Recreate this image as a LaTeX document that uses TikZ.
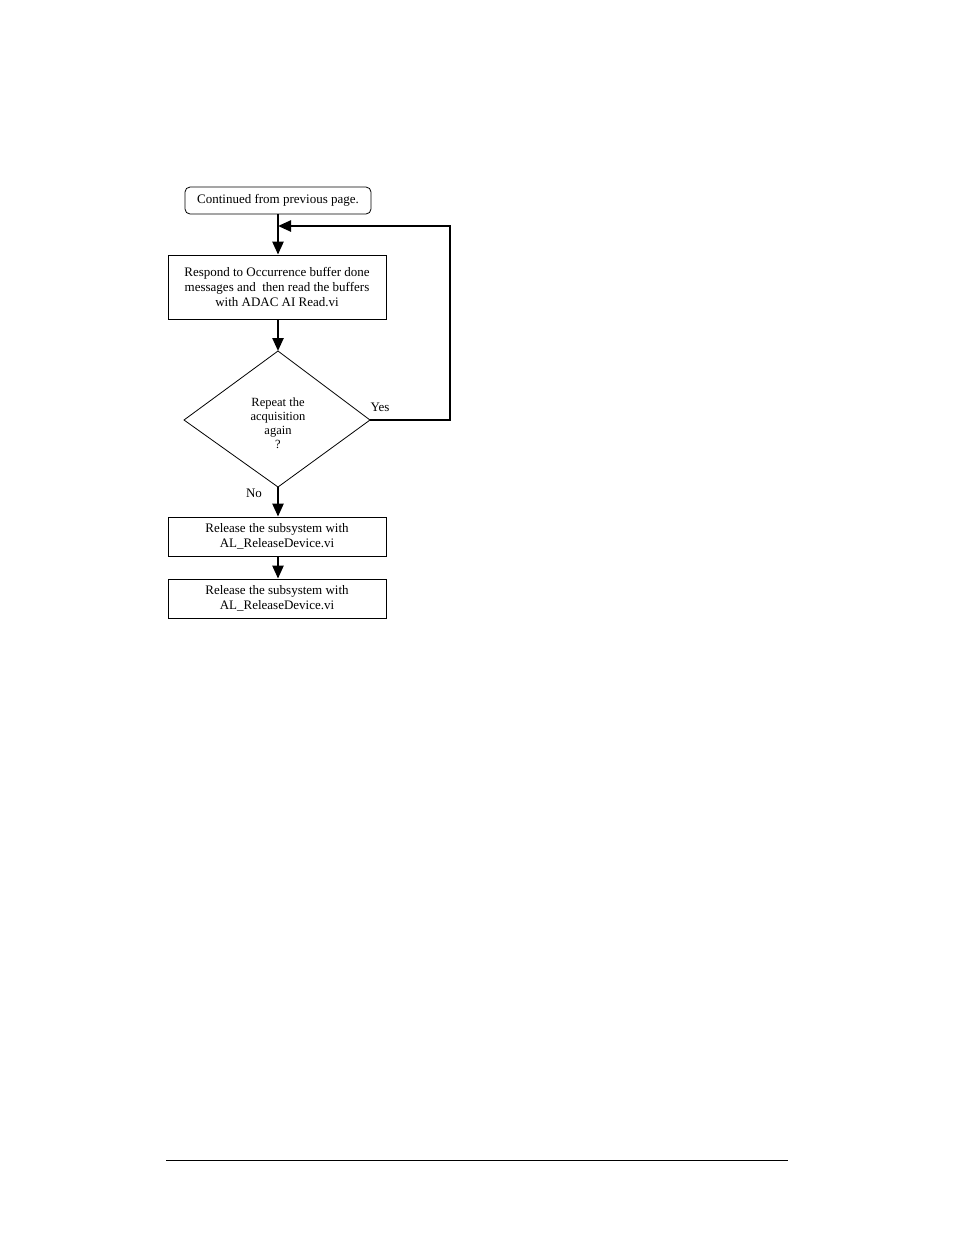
\documentclass[tikz,border=0pt]{standalone}
\usepackage{fontspec}
\setmainfont{Liberation Serif}
\usetikzlibrary{shapes.geometric,arrows.meta}
\begin{document}
\begin{tikzpicture}[x=1pt,y=-1pt,
  every node/.style={font=\fontsize{13}{15}\selectfont},
  box/.style={draw,line width=0.8pt,minimum width=218pt,align=center,inner sep=0pt},
  flow/.style={line width=2.4pt,-{Triangle[length=13pt,width=11pt]}},
  lbl/.style={inner sep=0pt}]
\useasboundingbox (0,0) rectangle (954,1235);
\node[box,rounded corners=5pt,minimum width=186pt,minimum height=27pt] (start) at (278,200.5) {Continued from previous page.};
\node[box,minimum height=64pt] (resp) at (277,287) {Respond to Occurrence buffer done\\messages and\ \ then read the buffers\\with ADAC AI Read.vi};
\coordinate (dt) at (278,351);
\coordinate (db) at (278,487);
\coordinate (dl) at (184,420);
\coordinate (dr) at (370,420);
\draw[line width=0.8pt] (dt) -- (dr) -- (db) -- (dl) -- cycle;
\node[align=center,font=\fontsize{12.5}{14}\selectfont] (q) at (278,423) {Repeat the\\acquisition\\again\\?};
\node[box,minimum height=39pt] (rel1) at (277,536.5) {Release the subsystem with\\AL\_ReleaseDevice.vi};
\node[box,minimum height=39pt] (rel2) at (277,598.5) {Release the subsystem with\\AL\_ReleaseDevice.vi};
\coordinate (loop) at (450,226);
\coordinate (join) at (278,226);
\draw[flow] (start.south -| dt) -- (resp.north -| dt);
\draw[flow] (resp.south -| dt) -- (dt);
\draw[flow] (db) -- (rel1.north -| db);
\draw[flow] (rel1.south -| db) -- (rel2.north -| db);
\draw[flow] (dr) -- (loop |- dr) -- (loop) -- (join);
\node[lbl] (yes) at (380,407) {Yes};
\node[lbl] (no) at (254,493) {No};
\coordinate (f1) at (166,1160);
\coordinate (f2) at (788,1160);
\draw[line width=1pt] (f1) -- (f2);
\end{tikzpicture}
\end{document}
